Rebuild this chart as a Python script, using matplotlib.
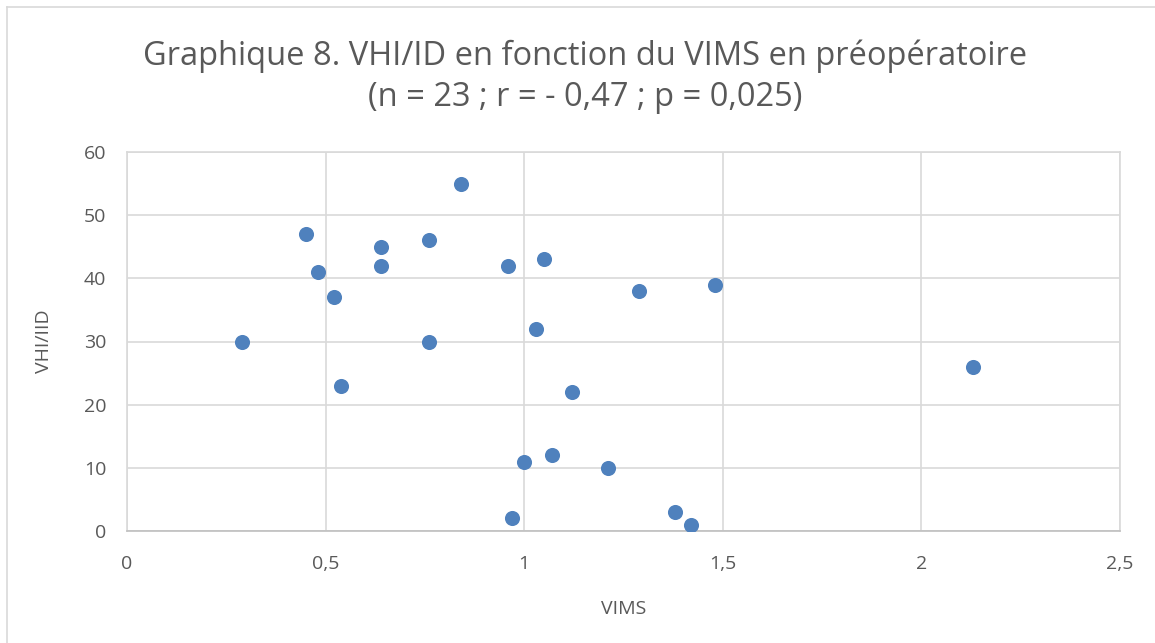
import matplotlib.pyplot as plt
from matplotlib.lines import Line2D
from matplotlib.ticker import FuncFormatter

# VIMS (x) and VHI/IID (y)
vims = [0.29, 0.45, 0.48, 0.52, 0.54, 0.64, 0.64, 0.76, 0.76, 0.84, 0.96, 0.97,
        1.00, 1.03, 1.05, 1.07, 1.12, 1.21, 1.29, 1.38, 1.42, 1.48, 2.13]
vhi = [30, 47, 41, 37, 23, 45, 42, 46, 30, 55, 42, 2,
       11, 32, 43, 12, 22, 10, 38, 3, 1, 39, 26]

x_ticks = [0, 0.5, 1, 1.5, 2, 2.5]
y_ticks = [0, 10, 20, 30, 40, 50, 60]

title = "Graphique 8. VHI/ID en fonction du VIMS en préopératoire\n(n = 23 ; r = - 0,47 ; p = 0,025)"

plt.rcParams['font.family'] = ['Open Sans', 'DejaVu Sans']
txt = '#595959'
grid = '#d9d9d9'

W, H = 1155, 643
fig = plt.figure(figsize=(W / 100, H / 100), dpi=100)
ax = fig.add_axes([127 / W, 1 - 531 / H, (1120 - 127) / W, (531 - 152) / H])

ax.scatter(vims, vhi, s=118, color='#4f81bd', zorder=3, linewidths=0)

ax.set_xlim(0, 2.5)
ax.set_ylim(0, 60)
ax.set_xticks(x_ticks)
ax.set_yticks(y_ticks)
ax.xaxis.set_major_formatter(FuncFormatter(lambda v, p: f"{v:g}".replace('.', ',')))
ax.grid(True, color=grid, linewidth=1.2)
ax.set_axisbelow(True)
for s in ['top', 'right', 'left']:
    ax.spines[s].set_color(grid)
    ax.spines[s].set_linewidth(1.2)
ax.spines['bottom'].set_color('#bfbfbf')
ax.spines['bottom'].set_linewidth(1.2)
ax.tick_params(length=0, labelsize=14, colors=txt, pad=15)
ax.tick_params(axis='x', pad=17)

ax.set_xlabel("VIMS", fontsize=14, color=txt, labelpad=20)
ax.set_ylabel("VHI/IID", fontsize=14, color=txt, labelpad=22)

fig.text(585 / W, 1 - 77 / H, title, ha='center', va='center',
         fontsize=23.5, color=txt, linespacing=1.33)

# outer chart border
fig.add_artist(Line2D([7 / W, 7 / W], [0, 1 - 7 / H], color=grid, lw=1.2))
fig.add_artist(Line2D([7 / W, 1], [1 - 7 / H, 1 - 7 / H], color=grid, lw=1.2))

fig.savefig('out.png', dpi=100)
